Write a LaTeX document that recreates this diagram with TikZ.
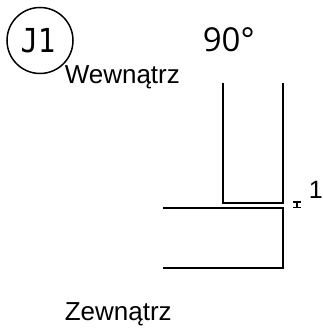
\documentclass[tikz,border=0pt]{standalone}
\usepackage{fontspec}
\setmainfont{Liberation Sans}
\newfontfamily\degfont{Open Sans}
\newfontfamily\tagfont{DejaVu Sans Mono}
\begin{document}
\begin{tikzpicture}[x=1pt, y=-1pt, line width=1.5pt, main/.style = {draw, circle, minimum size=66pt, inner sep=0pt}, lbl/.style = {anchor=base west, inner sep=0pt, font=\fontsize{26}{26}\selectfont}]
        \useasboundingbox (0,0) rectangle (322,328);
        \node[main] (j) at (40,40.5) {};
        \node[inner sep=0pt, xscale=.88, font=\fontsize{33}{33}\tagfont] (jt) at (38,41) {J1};
        \node[lbl] (we) at (64,84) {Wewnątrz};
        \node[lbl] (ze) at (64,320) {Zewnątrz};
        \node[lbl, font=\fontsize{33}{33}\degfont] (deg) at (202,52) {90°};
        \node[lbl, font=\fontsize{25}{25}\selectfont] (one) at (308,198) {1};

        \coordinate (a1) at (223,83);
        \coordinate (a2) at (223,203);
        \coordinate (a3) at (283,203);
        \coordinate (a4) at (283,83);
        \coordinate (b1) at (163,208);
        \coordinate (b2) at (283,208);
        \coordinate (b3) at (283,268);
        \coordinate (b4) at (163,268);
        \coordinate (d1) at (297,202);
        \coordinate (d2) at (297,207.5);

        \draw (a1) -- (a2) -- (a3) -- (a4);
        \draw (b1) -- (b2) -- (b3) -- (b4);
        \draw ([xshift=-4pt]d1) -- ([xshift=4pt]d1);
        \draw ([xshift=-4pt]d2) -- ([xshift=4pt]d2);
        \draw (d1) -- (d2);
    \end{tikzpicture}
\end{document}
